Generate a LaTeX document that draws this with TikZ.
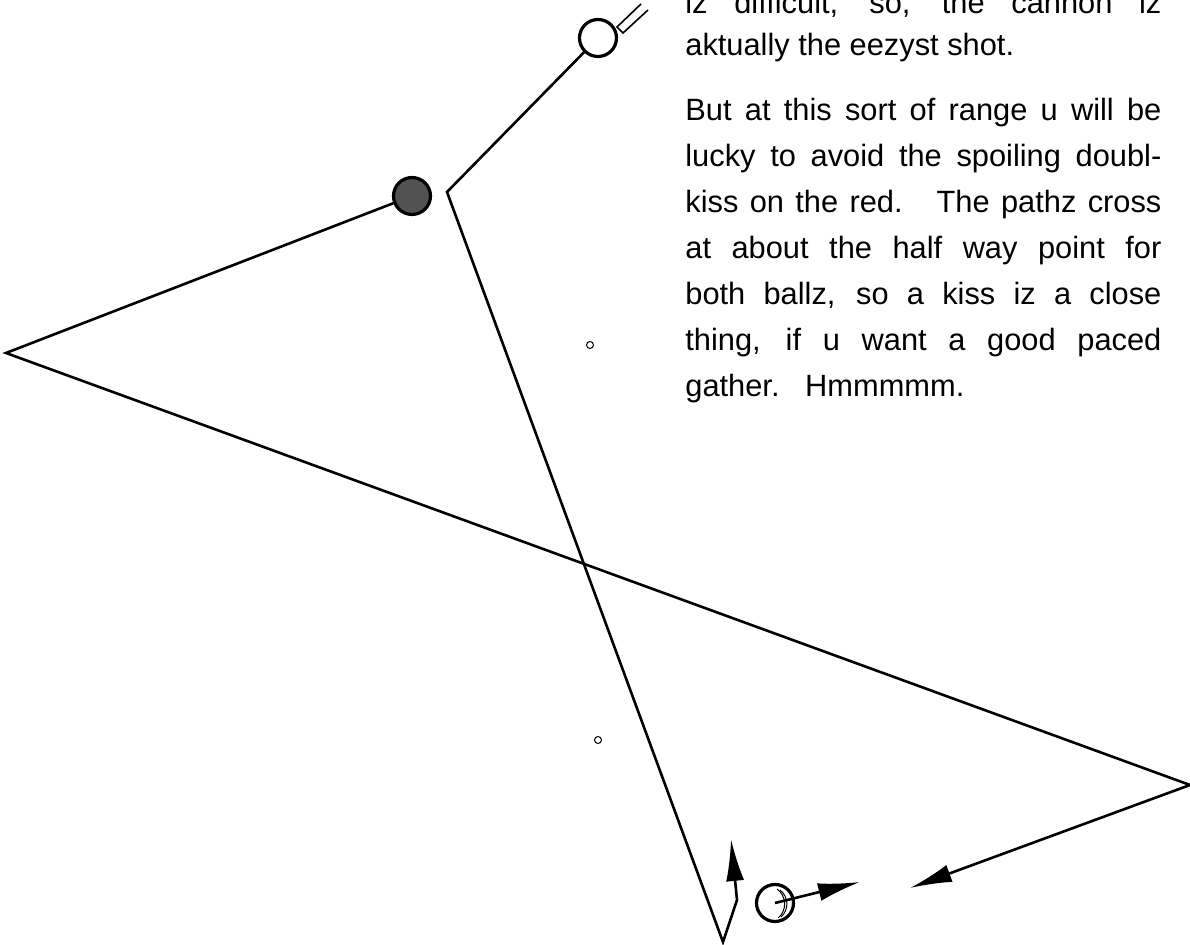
\documentclass[tikz,border=0pt]{standalone}
\usepackage{fontspec}
\setmainfont{Liberation Sans}
\usetikzlibrary{arrows.meta,positioning,calc}
\tikzset{
  shotline/.style={line width=1.3pt, line join=miter},
  ball/.style={circle, draw, line width=1.6pt, minimum size=18.5pt, inner sep=0pt},
  redball/.style={ball, fill=black!68},
  spot/.style={circle, draw, line width=0.5pt, minimum size=3.5pt, inner sep=0pt},
  cuestick/.style={line width=0.8pt},
  arrow/.style={shotline, -{Latex[length=21pt, width=9pt]}},
  textline/.style={anchor=base west, inner sep=0pt,
    font=\fontsize{15.4pt}{23pt}\selectfont}
}

\begin{document}
\begin{tikzpicture}[x=0.5pt, y=-0.5pt]
  \useasboundingbox (0,0) rectangle (1190,945);
  \clip (0,0) rectangle (1190,945);
  % balls and spots
  \node[ball] (cueball) at (598,38) {};
  \node[redball] (redball) at (412,196) {};
  \node[ball] (objball) at (775,903) {};
  \node[spot] (spottop) at (590,345) {};
  \node[spot] (spotbottom) at (598,740) {};
  % path corners
  \coordinate (ghost) at (447,192);
  \coordinate (bottomrail) at (723,942);
  \coordinate (bounce) at (737,900);
  \coordinate (cueend) at (731,839);
  \coordinate (leftrail) at (6,353);
  \coordinate (rightrail) at (1190,785);
  \coordinate (redend) at (910,888);
  \coordinate (objend) at (860,882);
  % cue
  \draw[cuestick] (641,4) -- (617,27) -- (623,33) -- (648,10);
  % cue ball path
  \draw[arrow] (cueball) -- (ghost) -- (bottomrail) -- (bounce) -- (cueend);
  % red ball path
  \draw[arrow] (redball) -- (leftrail) -- (rightrail) -- (redend);
  % object ball
  \draw[arrow] (objball.center) -- (objend);
  \draw[line width=0.5pt] (777,889) .. controls (787,896) and (787,911) .. (778,918);
  \draw[line width=0.5pt] (780,890) .. controls (789,897) and (789,910) .. (781,917);
  % text
  \node[textline] (l1) at (685,14) {\makebox[238pt][s]{iz difficult, so, the cannon iz}};
  \node[textline] (l2) at (685,56) {aktually the eezyst shot.};
  \node[textline] (l3) at (685,121) {\makebox[238pt][s]{But at this sort of range u will be}};
  \node[textline] (l4) at (685,167) {\makebox[238pt][s]{lucky to avoid the spoiling doubl-}};
  \node[textline] (l5) at (685,213) {\makebox[238pt][s]{kiss on the red.\ \ \ The pathz cross}};
  \node[textline] (l6) at (685,259) {\makebox[238pt][s]{at about the half way point for}};
  \node[textline] (l7) at (685,305) {\makebox[238pt][s]{both ballz, so a kiss iz a close}};
  \node[textline] (l8) at (685,351) {\makebox[238pt][s]{thing, if u want a good paced}};
  \node[textline] (l9) at (685,397) {gather.\ \ \ Hmmmmm.};
\end{tikzpicture}
\end{document}
